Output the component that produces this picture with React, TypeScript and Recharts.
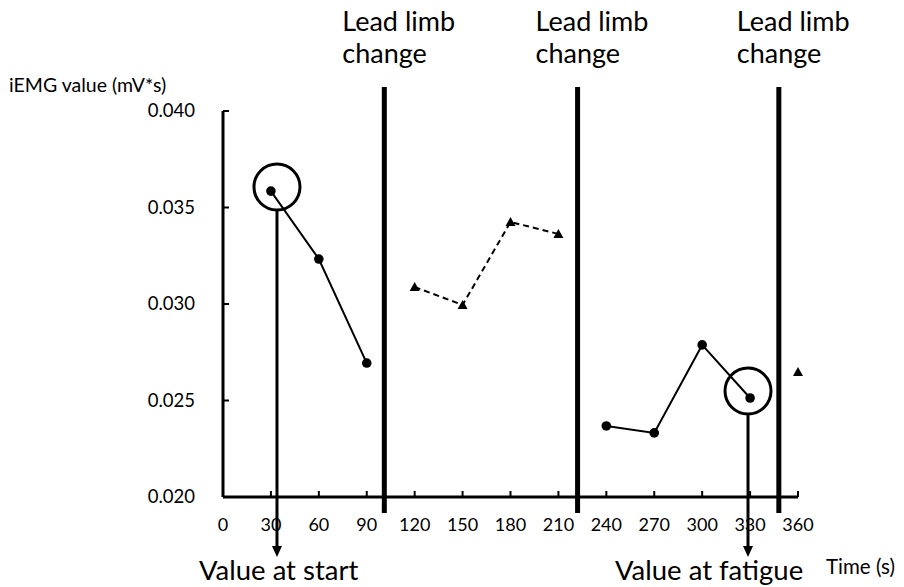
import React from 'react';
import { LineChart, Line, XAxis, YAxis, ReferenceLine, ReferenceDot } from 'recharts';

// Sample times (s) and iEMG values (mV*s)
const times = [30, 60, 90, 120, 150, 180, 210, 240, 270, 300, 330, 360];
const circleValues = [0.03585, 0.03233, 0.02694, null, null, null, null, 0.02368, 0.02332, 0.02788, 0.02513, null];
const triangleValues = [null, null, null, 0.03088, 0.02995, 0.03425, 0.03363, null, null, null, null, 0.02648];

const xTicks = [0, 30, 60, 90, 120, 150, 180, 210, 240, 270, 300, 330, 360];
const yTicks = [0.02, 0.025, 0.03, 0.035, 0.04];

// Moments when the lead limb was switched (s)
const leadLimbChangeTimes = [101, 222, 348];
const leadLineSpan = [0.01917, 0.04124];

// Highlighted measurements with their call-outs
const highlightTimes = [33.8, 328.7];
const highlightValues = [0.03606, 0.02549];
const highlightLabels = ['Value at start', 'Value at fatigue'];
const highlightLabelShift = [-78, -133];
const arrowTipValue = 0.01689;

const data = times.map((t, i) => ({ t, circle: circleValues[i], triangle: triangleValues[i] }));

const FONT = "Lato, 'Open Sans', sans-serif";
const AXIS_X = 223;
const AXIS_Y = 497;
const TICK_LEN = 6;

const CircleDot = (p: any) => {
  if (p.cy == null || p.value == null) return <g key={`c-${p.index}`} />;
  return <circle key={`c-${p.index}`} cx={p.cx} cy={p.cy} r={4.8} fill="#000" />;
};

const TriangleDot = (p: any) => {
  if (p.cy == null || p.value == null) return <g key={`t-${p.index}`} />;
  const s = 5;
  const pts = `${p.cx},${p.cy - s} ${p.cx + s},${p.cy + s * 0.8} ${p.cx - s},${p.cy + s * 0.8}`;
  return <polygon key={`t-${p.index}`} points={pts} fill="#000" />;
};

const XTick = (p: any) => {
  const v = p.payload.value;
  return (
    <g>
      {v !== 0 && (
        <line x1={p.x} x2={p.x} y1={AXIS_Y} y2={AXIS_Y - TICK_LEN} stroke="#000" strokeWidth={2} />
      )}
      <text x={p.x} y={p.y + 34} textAnchor="middle" fontSize={18} fontFamily={FONT} fill="#000">
        {v}
      </text>
    </g>
  );
};

const YTick = (p: any) => {
  const v = p.payload.value;
  return (
    <g>
      {v !== 0.02 && (
        <line x1={AXIS_X} x2={AXIS_X + TICK_LEN} y1={p.y} y2={p.y} stroke="#000" strokeWidth={2} />
      )}
      <text x={p.x} y={p.y + 6} textAnchor="end" fontSize={18.5} fontFamily={FONT} fill="#000">
        {v.toFixed(3)}
      </text>
    </g>
  );
};

const LeadLine = (p: any) => {
  const top = Math.min(p.y1, p.y2);
  const bottom = Math.max(p.y1, p.y2);
  return (
    <g>
      <line x1={p.x1} x2={p.x1} y1={top} y2={bottom} stroke="#000" strokeWidth={5} />
      <text x={p.x1 - 42} y={top - 56} fontSize={27} fontFamily={FONT} fill="#000">Lead limb</text>
      <text x={p.x1 - 42} y={top - 24} fontSize={27} fontFamily={FONT} fill="#000">change</text>
    </g>
  );
};

const makeArrow = (label: string, shift: number) => (p: any) => {
  const top = Math.min(p.y1, p.y2);
  const tip = Math.max(p.y1, p.y2);
  const x = p.x1;
  return (
    <g>
      <line x1={x} x2={x} y1={top + 24} y2={tip - 9} stroke="#000" strokeWidth={3} />
      <polygon points={`${x - 5},${tip - 11} ${x + 5},${tip - 11} ${x},${tip}`} fill="#000" />
      <text x={x + shift} y={tip + 23} fontSize={27.5} fontFamily={FONT} fill="#000">{label}</text>
    </g>
  );
};

export default function App() {
  return (
    <div style={{ position: 'absolute', left: 0, top: 0, width: 904, height: 587, background: '#fff' }}>
      <LineChart
        width={904}
        height={587}
        data={data}
        margin={{ top: 111, right: 106, bottom: 60, left: 163 }}
      >
        <XAxis
          dataKey="t"
          type="number"
          domain={[0, 360]}
          ticks={xTicks}
          interval={0}
          height={30}
          tickSize={0}
          tickMargin={0}
          tickLine={false}
          axisLine={{ stroke: '#000', strokeWidth: 3 }}
          tick={<XTick />}
        />
        <YAxis
          type="number"
          domain={[0.02, 0.04]}
          ticks={yTicks}
          interval={0}
          width={60}
          tickSize={0}
          tickMargin={28}
          tickLine={false}
          axisLine={{ stroke: '#000', strokeWidth: 3 }}
          tick={<YTick />}
        />
        <Line
          dataKey="circle"
          stroke="#000"
          strokeWidth={2}
          dot={CircleDot}
          activeDot={false}
          connectNulls={false}
          isAnimationActive={false}
        />
        <Line
          dataKey="triangle"
          stroke="#000"
          strokeWidth={2}
          strokeDasharray="6 4"
          dot={TriangleDot}
          activeDot={false}
          connectNulls={false}
          isAnimationActive={false}
        />
        {leadLimbChangeTimes.map((t) => (
          <ReferenceLine
            key={`lead-${t}`}
            segment={[{ x: t, y: leadLineSpan[0] }, { x: t, y: leadLineSpan[1] }]}
            ifOverflow="visible"
            shape={LeadLine}
          />
        ))}
        {highlightTimes.map((t, i) => (
          <ReferenceDot
            key={`ring-${i}`}
            x={t}
            y={highlightValues[i]}
            r={23}
            fill="none"
            stroke="#000"
            strokeWidth={3}
            ifOverflow="visible"
          />
        ))}
        {highlightTimes.map((t, i) => (
          <ReferenceLine
            key={`arrow-${i}`}
            segment={[{ x: t, y: highlightValues[i] }, { x: t, y: arrowTipValue }]}
            ifOverflow="visible"
            shape={makeArrow(highlightLabels[i], highlightLabelShift[i])}
          />
        ))}
      </LineChart>
      <svg width={904} height={587} style={{ position: 'absolute', left: 0, top: 0, pointerEvents: 'none' }}>
        <text x={9} y={92} fontSize={19.5} fontFamily={FONT} fill="#000">iEMG value (mV*s)</text>
        <text x={826} y={574} fontSize={20.5} fontFamily={FONT} fill="#000">Time (s)</text>
      </svg>
    </div>
  );
}
